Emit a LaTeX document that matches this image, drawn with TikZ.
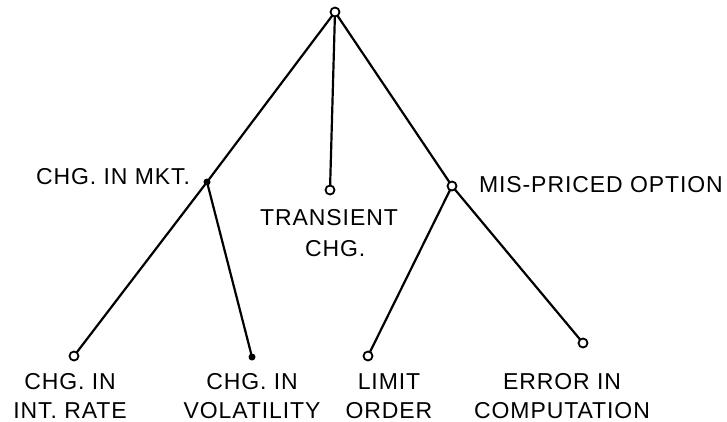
\documentclass[tikz,border=0pt]{standalone}
\usepackage{fontspec}
\setmainfont{Liberation Sans}[LetterSpace=4]
\begin{document}
\begin{tikzpicture}[x=1pt,y=-1pt,
  every node/.style={inner sep=0pt, outer sep=0pt},
  opendot/.style={circle, draw, line width=1.8pt, minimum size=9pt, fill=white},
  fulldot/.style={circle, fill, minimum size=7pt},
  branch/.style={line width=2.2pt, line cap=round},
  lbl/.style={font=\fontsize{23}{29}\selectfont, align=center, anchor=base}]
\useasboundingbox (0,0) rectangle (727,422);
% junctions
\node[opendot] (root) at (335,12) {};
\node[fulldot] (mkt) at (207,182) {};
\node[opendot] (trans) at (330,190) {};
\node[opendot] (mis) at (452,186) {};
\node[opendot] (rate) at (74,356) {};
\node[fulldot] (vol) at (252,357) {};
\node[opendot] (limit) at (368,356) {};
\node[opendot] (err) at (583,343) {};
% branches
\draw[branch] (root) -- (mkt);
\draw[branch] (mkt) -- (rate);
\draw[branch] (mkt) -- (vol);
\draw[branch] (root) -- (trans);
\draw[branch] (root) -- (mis);
\draw[branch] (mis) -- (limit);
\draw[branch] (mis) -- (err);
% labels
\node[lbl, anchor=base east] (lmkt) at (190,184) {CHG. IN MKT.};
\node[lbl, anchor=base west] (lmis) at (479,192) {MIS-PRICED OPTION};
\node[lbl] (ltrans) at (329,225) {TRANSIENT};
\node[lbl, anchor=base west] (ltrans2) at (305,256) {CHG.};
\node[lbl] (lrate) at (70,418) {CHG. IN\\INT. RATE};
\node[lbl] (lvol) at (252,418) {CHG. IN\\VOLATILITY};
\node[lbl] (llimit) at (389,418) {LIMIT\\ORDER};
\node[lbl] (lerr) at (562,418) {ERROR IN\\COMPUTATION};
\end{tikzpicture}
\end{document}
